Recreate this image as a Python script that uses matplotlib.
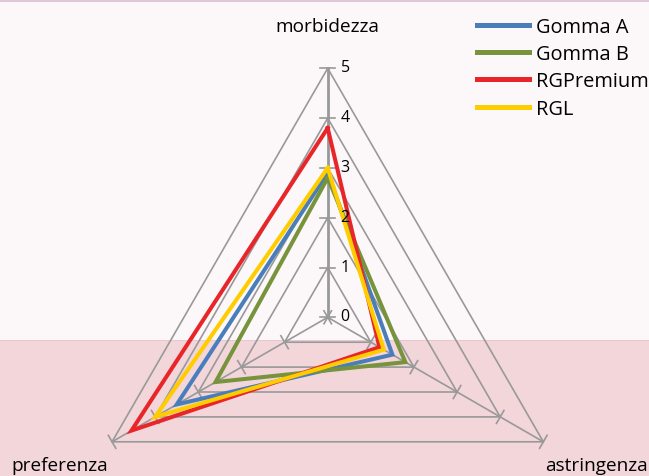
import numpy as np
import matplotlib
matplotlib.use("Agg")
import matplotlib.pyplot as plt

plt.rcParams['font.family'] = ['Open Sans', 'DejaVu Sans']

# dati
categorie = ['morbidezza', 'astringenza', 'preferenza']
serie = ['Gomma A', 'Gomma B', 'RGPremium', 'RGL']
gomma_a = [2.9, 1.5, 3.5]
gomma_b = [2.8, 1.8, 2.6]
rg_premium = [3.8, 1.2, 4.55]
rgl = [3.0, 1.3, 4.0]
valori = [gomma_a, gomma_b, rg_premium, rgl]
colori = ['#4a7ebb', '#77933c', '#e8262a', '#ffcc00']
livelli = [0, 1, 2, 3, 4, 5]

# angoli: alto, basso destra, basso sinistra
ang = np.deg2rad([90, -30, 210])


def xy(vals):
    v = np.asarray(vals, dtype=float)
    return v * np.cos(ang), v * np.sin(ang)


W, H = 649, 477
unit = 49.8
cx, cy = 327.7, 318.3

fig = plt.figure(figsize=(W / 100, H / 100), dpi=100)
fig.patch.set_facecolor('#fcf7f8')

ax = fig.add_axes([0, 0, 1, 1])
ax.set_facecolor('none')
ax.set_xlim(-cx / unit, (W - cx) / unit)
ax.set_ylim(-(H - cy) / unit, cy / unit)
ax.axis('off')

# sfondo
yb = (cy - 340.5) / unit
ax.axhspan(-(H - cy) / unit, yb, color='#f2d6da', lw=0, zorder=0)
ax.axhspan(yb - 1.5 / unit, yb, color='#e8c8ce', lw=0, zorder=0)
ax.axhspan(cy / unit - 2.5 / unit, cy / unit, color='#dfc6d8', lw=0, zorder=0)

grigio = '#999999'
# anelli
for lv in livelli[1:]:
    x, y = xy([lv] * 3)
    ax.plot(np.append(x, x[0]), np.append(y, y[0]), color=grigio, lw=1.2, zorder=1)
# raggi
for i, a in enumerate(ang):
    x, y = xy([5 if j == i else 0 for j in range(3)])
    ax.plot([0, x[i]], [0, y[i]], color=grigio, lw=2.0 if i == 0 else 1.2, zorder=1)
    # tacche
    px, py = -np.sin(a), np.cos(a)
    for lv in livelli:
        tx, ty = lv * np.cos(a), lv * np.sin(a)
        ax.plot([tx - 0.15 * px, tx + 0.15 * px], [ty - 0.15 * py, ty + 0.15 * py],
                color=grigio, lw=1.2, zorder=1)

# etichette asse
for lv in livelli:
    ax.text(0.26, lv + 0.02, str(lv), fontsize=11.5, ha='left', va='center',
            color='#000000', zorder=5)

# serie
linee = []
for nome, v, c in zip(serie, valori, colori):
    x, y = xy(v)
    l, = ax.plot(np.append(x, x[0]), np.append(y, y[0]), color=c, lw=2.9,
                 solid_joinstyle='miter', label=nome, zorder=3)
    linee.append(l)

# etichette categorie
ax.text(0, (cy - 27) / unit, categorie[0], fontsize=13.7, ha='center', va='center')
ax.text((596 - cx) / unit, (cy - 466) / unit, categorie[1], fontsize=13.7, ha='center', va='center')
ax.text((60 - cx) / unit, (cy - 466) / unit, categorie[2], fontsize=13.7, ha='center', va='center')

leg = ax.legend(handles=linee, loc='upper left', bbox_to_anchor=(477 / W, 1 - 18 / H),
                frameon=False, fontsize=14.4, handlelength=2.6, handletextpad=0.35,
                labelspacing=0.36, borderaxespad=0, borderpad=0)
for h in leg.legend_handles:
    h.set_linewidth(3.6)

fig.savefig('out.png', dpi=100, facecolor=fig.get_facecolor())
